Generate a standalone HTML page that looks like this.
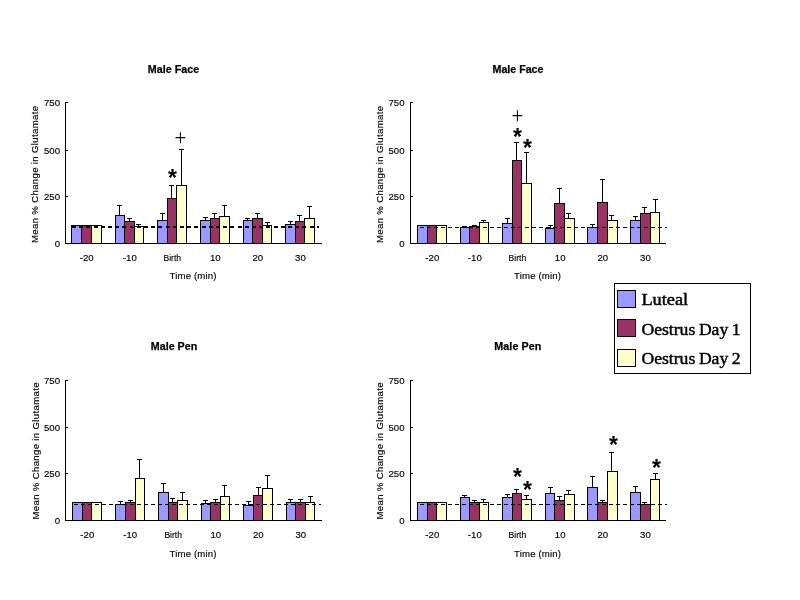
<!DOCTYPE html>
<html><head><meta charset="utf-8"><title>Glutamate figure</title>
<style>
html,body{margin:0;padding:0;background:#fff;}
svg{display:block;}
.t9{font-family:"Liberation Sans",Arial,sans-serif;font-size:9.6px;fill:#000;stroke:#000;stroke-width:0.15px;}
.tt{font-family:"Liberation Sans",Arial,sans-serif;font-size:10.7px;font-weight:bold;fill:#000;stroke:#000;stroke-width:0.25px;}
.lg{font-family:"Liberation Serif","Times New Roman",serif;font-size:17.3px;word-spacing:-0.8px;fill:#000;stroke:#000;stroke-width:0.45px;}
.ast{font-family:"Liberation Sans",Arial,sans-serif;font-size:23px;font-weight:bold;fill:#000;}
.plus{font-family:"Liberation Serif","Times New Roman",serif;font-size:21px;fill:#000;}
</style></head><body>
<svg width="800" height="600" viewBox="0 0 800 600" shape-rendering="crispEdges">
<rect x="0" y="0" width="800" height="600" fill="#fff"/>
<rect x="71.5" y="225.5" width="10" height="18" fill="#9999ff" stroke="#000" stroke-width="1"/>
<rect x="81.5" y="225.5" width="10" height="18" fill="#993366" stroke="#000" stroke-width="1"/>
<rect x="91.5" y="225.5" width="10" height="18" fill="#ffffcc" stroke="#000" stroke-width="1"/>
<rect x="115.5" y="215.5" width="9" height="28" fill="#9999ff" stroke="#000" stroke-width="1"/>
<rect x="124.5" y="221.5" width="10" height="22" fill="#993366" stroke="#000" stroke-width="1"/>
<rect x="134.5" y="226.5" width="9" height="17" fill="#ffffcc" stroke="#000" stroke-width="1"/>
<rect x="119" y="205" width="1" height="10" fill="#000"/>
<rect x="117" y="205" width="5" height="1" fill="#000"/>
<rect x="129" y="218" width="1" height="3" fill="#000"/>
<rect x="127" y="218" width="5" height="1" fill="#000"/>
<rect x="138" y="224" width="1" height="2" fill="#000"/>
<rect x="136" y="224" width="5" height="1" fill="#000"/>
<rect x="157.5" y="220.5" width="10" height="23" fill="#9999ff" stroke="#000" stroke-width="1"/>
<rect x="167.5" y="198.5" width="9" height="45" fill="#993366" stroke="#000" stroke-width="1"/>
<rect x="176.5" y="185.5" width="10" height="58" fill="#ffffcc" stroke="#000" stroke-width="1"/>
<rect x="162" y="213" width="1" height="7" fill="#000"/>
<rect x="160" y="213" width="5" height="1" fill="#000"/>
<rect x="171" y="185" width="1" height="13" fill="#000"/>
<rect x="169" y="185" width="5" height="1" fill="#000"/>
<rect x="181" y="149" width="1" height="36" fill="#000"/>
<rect x="179" y="149" width="5" height="1" fill="#000"/>
<rect x="200.5" y="220.5" width="10" height="23" fill="#9999ff" stroke="#000" stroke-width="1"/>
<rect x="210.5" y="218.5" width="9" height="25" fill="#993366" stroke="#000" stroke-width="1"/>
<rect x="219.5" y="216.5" width="10" height="27" fill="#ffffcc" stroke="#000" stroke-width="1"/>
<rect x="205" y="217" width="1" height="3" fill="#000"/>
<rect x="203" y="217" width="5" height="1" fill="#000"/>
<rect x="214" y="213" width="1" height="5" fill="#000"/>
<rect x="212" y="213" width="5" height="1" fill="#000"/>
<rect x="224" y="205" width="1" height="11" fill="#000"/>
<rect x="222" y="205" width="5" height="1" fill="#000"/>
<rect x="243.5" y="220.5" width="9" height="23" fill="#9999ff" stroke="#000" stroke-width="1"/>
<rect x="252.5" y="218.5" width="10" height="25" fill="#993366" stroke="#000" stroke-width="1"/>
<rect x="262.5" y="225.5" width="9" height="18" fill="#ffffcc" stroke="#000" stroke-width="1"/>
<rect x="247" y="218" width="1" height="2" fill="#000"/>
<rect x="245" y="218" width="5" height="1" fill="#000"/>
<rect x="257" y="213" width="1" height="5" fill="#000"/>
<rect x="255" y="213" width="5" height="1" fill="#000"/>
<rect x="267" y="222" width="1" height="3" fill="#000"/>
<rect x="265" y="222" width="5" height="1" fill="#000"/>
<rect x="285.5" y="224.5" width="10" height="19" fill="#9999ff" stroke="#000" stroke-width="1"/>
<rect x="295.5" y="221.5" width="9" height="22" fill="#993366" stroke="#000" stroke-width="1"/>
<rect x="304.5" y="218.5" width="10" height="25" fill="#ffffcc" stroke="#000" stroke-width="1"/>
<rect x="290" y="221" width="1" height="3" fill="#000"/>
<rect x="288" y="221" width="5" height="1" fill="#000"/>
<rect x="299" y="215" width="1" height="6" fill="#000"/>
<rect x="297" y="215" width="5" height="1" fill="#000"/>
<rect x="309" y="206" width="1" height="12" fill="#000"/>
<rect x="307" y="206" width="5" height="1" fill="#000"/>
<rect x="72" y="226" width="4" height="2" fill="#000"/>
<rect x="79" y="226" width="4" height="2" fill="#000"/>
<rect x="86" y="226" width="4" height="2" fill="#000"/>
<rect x="94" y="226" width="4" height="2" fill="#000"/>
<rect x="101" y="226" width="4" height="2" fill="#000"/>
<rect x="108" y="226" width="4" height="2" fill="#000"/>
<rect x="115" y="226" width="4" height="2" fill="#000"/>
<rect x="122" y="226" width="4" height="2" fill="#000"/>
<rect x="130" y="226" width="4" height="2" fill="#000"/>
<rect x="137" y="226" width="4" height="2" fill="#000"/>
<rect x="144" y="226" width="4" height="2" fill="#000"/>
<rect x="151" y="226" width="4" height="2" fill="#000"/>
<rect x="158" y="226" width="4" height="2" fill="#000"/>
<rect x="166" y="226" width="4" height="2" fill="#000"/>
<rect x="173" y="226" width="4" height="2" fill="#000"/>
<rect x="180" y="226" width="4" height="2" fill="#000"/>
<rect x="187" y="226" width="4" height="2" fill="#000"/>
<rect x="194" y="226" width="4" height="2" fill="#000"/>
<rect x="202" y="226" width="4" height="2" fill="#000"/>
<rect x="209" y="226" width="4" height="2" fill="#000"/>
<rect x="216" y="226" width="4" height="2" fill="#000"/>
<rect x="223" y="226" width="4" height="2" fill="#000"/>
<rect x="230" y="226" width="4" height="2" fill="#000"/>
<rect x="238" y="226" width="4" height="2" fill="#000"/>
<rect x="245" y="226" width="4" height="2" fill="#000"/>
<rect x="252" y="226" width="4" height="2" fill="#000"/>
<rect x="259" y="226" width="4" height="2" fill="#000"/>
<rect x="266" y="226" width="4" height="2" fill="#000"/>
<rect x="274" y="226" width="4" height="2" fill="#000"/>
<rect x="281" y="226" width="4" height="2" fill="#000"/>
<rect x="288" y="226" width="4" height="2" fill="#000"/>
<rect x="295" y="226" width="4" height="2" fill="#000"/>
<rect x="302" y="226" width="4" height="2" fill="#000"/>
<rect x="310" y="226" width="4" height="2" fill="#000"/>
<rect x="317" y="226" width="2.200000000000273" height="2" fill="#000"/>
<rect x="65" y="102" width="1" height="142" fill="#000"/>
<rect x="65" y="243" width="257" height="1" fill="#000"/>
<rect x="66" y="243" width="2" height="1" fill="#000"/>
<text x="60" y="247" text-anchor="end" class="t9">0</text>
<rect x="66" y="196" width="2" height="1" fill="#000"/>
<text x="60" y="200" text-anchor="end" class="t9">250</text>
<rect x="66" y="150" width="2" height="1" fill="#000"/>
<text x="60" y="154" text-anchor="end" class="t9">500</text>
<rect x="66" y="102" width="2" height="1" fill="#000"/>
<text x="60" y="106" text-anchor="end" class="t9">750</text>
<text x="86.7" y="261" text-anchor="middle" class="t9">-20</text>
<text x="129.8" y="261" text-anchor="middle" class="t9">-10</text>
<text x="172.3" y="261" text-anchor="middle" class="t9" textLength="17.6" lengthAdjust="spacingAndGlyphs">Birth</text>
<text x="215.3" y="261" text-anchor="middle" class="t9">10</text>
<text x="257.8" y="261" text-anchor="middle" class="t9">20</text>
<text x="300.4" y="261" text-anchor="middle" class="t9">30</text>
<text x="193.0" y="279" text-anchor="middle" class="t9" textLength="47" lengthAdjust="spacing">Time (min)</text>
<text transform="translate(38,174.5) rotate(-90)" text-anchor="middle" class="t9" textLength="137" lengthAdjust="spacing">Mean % Change in Glutamate</text>
<text x="173.5" y="73" text-anchor="middle" class="tt" textLength="51.5" lengthAdjust="spacing">Male Face</text>
<text x="168.0" y="186.0" class="ast">*</text>
<text transform="translate(180.5,137.5) scale(1,1.13)" x="0" y="6.55" text-anchor="middle" class="plus">+</text>
<rect x="417.5" y="225.5" width="10" height="18" fill="#9999ff" stroke="#000" stroke-width="1"/>
<rect x="427.5" y="225.5" width="9" height="18" fill="#993366" stroke="#000" stroke-width="1"/>
<rect x="436.5" y="225.5" width="10" height="18" fill="#ffffcc" stroke="#000" stroke-width="1"/>
<rect x="460.5" y="227.5" width="9" height="16" fill="#9999ff" stroke="#000" stroke-width="1"/>
<rect x="469.5" y="226.5" width="10" height="17" fill="#993366" stroke="#000" stroke-width="1"/>
<rect x="479.5" y="222.5" width="9" height="21" fill="#ffffcc" stroke="#000" stroke-width="1"/>
<rect x="464" y="226" width="1" height="1" fill="#000"/>
<rect x="462" y="226" width="5" height="1" fill="#000"/>
<rect x="474" y="225" width="1" height="1" fill="#000"/>
<rect x="472" y="225" width="5" height="1" fill="#000"/>
<rect x="483" y="220" width="1" height="2" fill="#000"/>
<rect x="481" y="220" width="5" height="1" fill="#000"/>
<rect x="502.5" y="223.5" width="10" height="20" fill="#9999ff" stroke="#000" stroke-width="1"/>
<rect x="512.5" y="160.5" width="9" height="83" fill="#993366" stroke="#000" stroke-width="1"/>
<rect x="521.5" y="183.5" width="10" height="60" fill="#ffffcc" stroke="#000" stroke-width="1"/>
<rect x="507" y="218" width="1" height="5" fill="#000"/>
<rect x="505" y="218" width="5" height="1" fill="#000"/>
<rect x="516" y="142" width="1" height="18" fill="#000"/>
<rect x="514" y="142" width="5" height="1" fill="#000"/>
<rect x="526" y="152" width="1" height="31" fill="#000"/>
<rect x="524" y="152" width="5" height="1" fill="#000"/>
<rect x="545.5" y="228.5" width="9" height="15" fill="#9999ff" stroke="#000" stroke-width="1"/>
<rect x="554.5" y="203.5" width="10" height="40" fill="#993366" stroke="#000" stroke-width="1"/>
<rect x="564.5" y="218.5" width="10" height="25" fill="#ffffcc" stroke="#000" stroke-width="1"/>
<rect x="550" y="225" width="1" height="3" fill="#000"/>
<rect x="548" y="225" width="5" height="1" fill="#000"/>
<rect x="559" y="188" width="1" height="15" fill="#000"/>
<rect x="557" y="188" width="5" height="1" fill="#000"/>
<rect x="568" y="213" width="1" height="5" fill="#000"/>
<rect x="566" y="213" width="5" height="1" fill="#000"/>
<rect x="587.5" y="227.5" width="10" height="16" fill="#9999ff" stroke="#000" stroke-width="1"/>
<rect x="597.5" y="202.5" width="10" height="41" fill="#993366" stroke="#000" stroke-width="1"/>
<rect x="607.5" y="220.5" width="10" height="23" fill="#ffffcc" stroke="#000" stroke-width="1"/>
<rect x="592" y="224" width="1" height="3" fill="#000"/>
<rect x="590" y="224" width="5" height="1" fill="#000"/>
<rect x="602" y="179" width="1" height="23" fill="#000"/>
<rect x="600" y="179" width="5" height="1" fill="#000"/>
<rect x="611" y="215" width="1" height="5" fill="#000"/>
<rect x="609" y="215" width="5" height="1" fill="#000"/>
<rect x="630.5" y="220.5" width="10" height="23" fill="#9999ff" stroke="#000" stroke-width="1"/>
<rect x="640.5" y="213.5" width="10" height="30" fill="#993366" stroke="#000" stroke-width="1"/>
<rect x="650.5" y="212.5" width="9" height="31" fill="#ffffcc" stroke="#000" stroke-width="1"/>
<rect x="635" y="216" width="1" height="4" fill="#000"/>
<rect x="633" y="216" width="5" height="1" fill="#000"/>
<rect x="644" y="207" width="1" height="6" fill="#000"/>
<rect x="642" y="207" width="5" height="1" fill="#000"/>
<rect x="655" y="199" width="1" height="13" fill="#000"/>
<rect x="653" y="199" width="5" height="1" fill="#000"/>
<rect x="420" y="227" width="4" height="1" fill="#000"/>
<rect x="427" y="227" width="4" height="1" fill="#000"/>
<rect x="434" y="227" width="4" height="1" fill="#000"/>
<rect x="441" y="227" width="4" height="1" fill="#000"/>
<rect x="448" y="227" width="4" height="1" fill="#000"/>
<rect x="455" y="227" width="4" height="1" fill="#000"/>
<rect x="462" y="227" width="4" height="1" fill="#000"/>
<rect x="469" y="227" width="4" height="1" fill="#000"/>
<rect x="476" y="227" width="4" height="1" fill="#000"/>
<rect x="483" y="227" width="4" height="1" fill="#000"/>
<rect x="490" y="227" width="4" height="1" fill="#000"/>
<rect x="497" y="227" width="4" height="1" fill="#000"/>
<rect x="504" y="227" width="4" height="1" fill="#000"/>
<rect x="511" y="227" width="4" height="1" fill="#000"/>
<rect x="518" y="227" width="4" height="1" fill="#000"/>
<rect x="525" y="227" width="4" height="1" fill="#000"/>
<rect x="532" y="227" width="4" height="1" fill="#000"/>
<rect x="539" y="227" width="4" height="1" fill="#000"/>
<rect x="546" y="227" width="4" height="1" fill="#000"/>
<rect x="553" y="227" width="4" height="1" fill="#000"/>
<rect x="560" y="227" width="4" height="1" fill="#000"/>
<rect x="567" y="227" width="4" height="1" fill="#000"/>
<rect x="574" y="227" width="4" height="1" fill="#000"/>
<rect x="581" y="227" width="4" height="1" fill="#000"/>
<rect x="588" y="227" width="4" height="1" fill="#000"/>
<rect x="595" y="227" width="4" height="1" fill="#000"/>
<rect x="602" y="227" width="4" height="1" fill="#000"/>
<rect x="609" y="227" width="4" height="1" fill="#000"/>
<rect x="616" y="227" width="4" height="1" fill="#000"/>
<rect x="623" y="227" width="4" height="1" fill="#000"/>
<rect x="630" y="227" width="4" height="1" fill="#000"/>
<rect x="637" y="227" width="4" height="1" fill="#000"/>
<rect x="644" y="227" width="4" height="1" fill="#000"/>
<rect x="651" y="227" width="4" height="1" fill="#000"/>
<rect x="658" y="227" width="4" height="1" fill="#000"/>
<rect x="665" y="227" width="2.0" height="1" fill="#000"/>
<rect x="410" y="102" width="1" height="142" fill="#000"/>
<rect x="410" y="243" width="256" height="1" fill="#000"/>
<rect x="411" y="243" width="2" height="1" fill="#000"/>
<text x="404.5" y="247" text-anchor="end" class="t9">0</text>
<rect x="411" y="196" width="2" height="1" fill="#000"/>
<text x="404.5" y="200" text-anchor="end" class="t9">250</text>
<rect x="411" y="150" width="2" height="1" fill="#000"/>
<text x="404.5" y="154" text-anchor="end" class="t9">500</text>
<rect x="411" y="102" width="2" height="1" fill="#000"/>
<text x="404.5" y="106" text-anchor="end" class="t9">750</text>
<text x="432.3" y="261" text-anchor="middle" class="t9">-20</text>
<text x="474.8" y="261" text-anchor="middle" class="t9">-10</text>
<text x="517.4" y="261" text-anchor="middle" class="t9" textLength="17.6" lengthAdjust="spacingAndGlyphs">Birth</text>
<text x="560.2" y="261" text-anchor="middle" class="t9">10</text>
<text x="602.8" y="261" text-anchor="middle" class="t9">20</text>
<text x="645.4" y="261" text-anchor="middle" class="t9">30</text>
<text x="537.5" y="279" text-anchor="middle" class="t9" textLength="47" lengthAdjust="spacing">Time (min)</text>
<text transform="translate(383,174.5) rotate(-90)" text-anchor="middle" class="t9" textLength="137" lengthAdjust="spacing">Mean % Change in Glutamate</text>
<text x="518" y="73" text-anchor="middle" class="tt" textLength="51" lengthAdjust="spacing">Male Face</text>
<text transform="translate(517.5,115.5) scale(1,1.13)" x="0" y="6.55" text-anchor="middle" class="plus">+</text>
<text x="513.0" y="145.0" class="ast">*</text>
<text x="523.0" y="156.0" class="ast">*</text>
<rect x="72.5" y="502.5" width="10" height="18" fill="#9999ff" stroke="#000" stroke-width="1"/>
<rect x="82.5" y="502.5" width="9" height="18" fill="#993366" stroke="#000" stroke-width="1"/>
<rect x="91.5" y="502.5" width="10" height="18" fill="#ffffcc" stroke="#000" stroke-width="1"/>
<rect x="115.5" y="504.5" width="10" height="16" fill="#9999ff" stroke="#000" stroke-width="1"/>
<rect x="125.5" y="502.5" width="10" height="18" fill="#993366" stroke="#000" stroke-width="1"/>
<rect x="135.5" y="478.5" width="9" height="42" fill="#ffffcc" stroke="#000" stroke-width="1"/>
<rect x="120" y="501" width="1" height="3" fill="#000"/>
<rect x="118" y="501" width="5" height="1" fill="#000"/>
<rect x="130" y="500" width="1" height="2" fill="#000"/>
<rect x="128" y="500" width="5" height="1" fill="#000"/>
<rect x="139" y="459" width="1" height="19" fill="#000"/>
<rect x="137" y="459" width="5" height="1" fill="#000"/>
<rect x="158.5" y="492.5" width="10" height="28" fill="#9999ff" stroke="#000" stroke-width="1"/>
<rect x="168.5" y="502.5" width="9" height="18" fill="#993366" stroke="#000" stroke-width="1"/>
<rect x="177.5" y="500.5" width="10" height="20" fill="#ffffcc" stroke="#000" stroke-width="1"/>
<rect x="163" y="483" width="1" height="9" fill="#000"/>
<rect x="161" y="483" width="5" height="1" fill="#000"/>
<rect x="172" y="498" width="1" height="4" fill="#000"/>
<rect x="170" y="498" width="5" height="1" fill="#000"/>
<rect x="182" y="492" width="1" height="8" fill="#000"/>
<rect x="180" y="492" width="5" height="1" fill="#000"/>
<rect x="201.5" y="503.5" width="9" height="17" fill="#9999ff" stroke="#000" stroke-width="1"/>
<rect x="210.5" y="502.5" width="10" height="18" fill="#993366" stroke="#000" stroke-width="1"/>
<rect x="220.5" y="496.5" width="9" height="24" fill="#ffffcc" stroke="#000" stroke-width="1"/>
<rect x="205" y="500" width="1" height="3" fill="#000"/>
<rect x="203" y="500" width="5" height="1" fill="#000"/>
<rect x="215" y="499" width="1" height="3" fill="#000"/>
<rect x="213" y="499" width="5" height="1" fill="#000"/>
<rect x="224" y="485" width="1" height="11" fill="#000"/>
<rect x="222" y="485" width="5" height="1" fill="#000"/>
<rect x="243.5" y="505.5" width="10" height="15" fill="#9999ff" stroke="#000" stroke-width="1"/>
<rect x="253.5" y="495.5" width="9" height="25" fill="#993366" stroke="#000" stroke-width="1"/>
<rect x="262.5" y="488.5" width="10" height="32" fill="#ffffcc" stroke="#000" stroke-width="1"/>
<rect x="248" y="501" width="1" height="4" fill="#000"/>
<rect x="246" y="501" width="5" height="1" fill="#000"/>
<rect x="258" y="487" width="1" height="8" fill="#000"/>
<rect x="256" y="487" width="5" height="1" fill="#000"/>
<rect x="267" y="475" width="1" height="13" fill="#000"/>
<rect x="265" y="475" width="5" height="1" fill="#000"/>
<rect x="286.5" y="502.5" width="9" height="18" fill="#9999ff" stroke="#000" stroke-width="1"/>
<rect x="295.5" y="502.5" width="10" height="18" fill="#993366" stroke="#000" stroke-width="1"/>
<rect x="305.5" y="502.5" width="9" height="18" fill="#ffffcc" stroke="#000" stroke-width="1"/>
<rect x="290" y="499" width="1" height="3" fill="#000"/>
<rect x="288" y="499" width="5" height="1" fill="#000"/>
<rect x="300" y="499" width="1" height="3" fill="#000"/>
<rect x="298" y="499" width="5" height="1" fill="#000"/>
<rect x="310" y="496" width="1" height="6" fill="#000"/>
<rect x="308" y="496" width="5" height="1" fill="#000"/>
<rect x="74" y="504" width="4" height="1" fill="#000"/>
<rect x="81" y="504" width="4" height="1" fill="#000"/>
<rect x="88" y="504" width="4" height="1" fill="#000"/>
<rect x="95" y="504" width="4" height="1" fill="#000"/>
<rect x="102" y="504" width="4" height="1" fill="#000"/>
<rect x="109" y="504" width="4" height="1" fill="#000"/>
<rect x="116" y="504" width="4" height="1" fill="#000"/>
<rect x="123" y="504" width="4" height="1" fill="#000"/>
<rect x="130" y="504" width="4" height="1" fill="#000"/>
<rect x="137" y="504" width="4" height="1" fill="#000"/>
<rect x="144" y="504" width="4" height="1" fill="#000"/>
<rect x="151" y="504" width="4" height="1" fill="#000"/>
<rect x="158" y="504" width="4" height="1" fill="#000"/>
<rect x="165" y="504" width="4" height="1" fill="#000"/>
<rect x="172" y="504" width="4" height="1" fill="#000"/>
<rect x="179" y="504" width="4" height="1" fill="#000"/>
<rect x="186" y="504" width="4" height="1" fill="#000"/>
<rect x="193" y="504" width="4" height="1" fill="#000"/>
<rect x="200" y="504" width="4" height="1" fill="#000"/>
<rect x="207" y="504" width="4" height="1" fill="#000"/>
<rect x="214" y="504" width="4" height="1" fill="#000"/>
<rect x="221" y="504" width="4" height="1" fill="#000"/>
<rect x="228" y="504" width="4" height="1" fill="#000"/>
<rect x="235" y="504" width="4" height="1" fill="#000"/>
<rect x="242" y="504" width="4" height="1" fill="#000"/>
<rect x="249" y="504" width="4" height="1" fill="#000"/>
<rect x="256" y="504" width="4" height="1" fill="#000"/>
<rect x="263" y="504" width="4" height="1" fill="#000"/>
<rect x="270" y="504" width="4" height="1" fill="#000"/>
<rect x="277" y="504" width="4" height="1" fill="#000"/>
<rect x="284" y="504" width="4" height="1" fill="#000"/>
<rect x="291" y="504" width="4" height="1" fill="#000"/>
<rect x="298" y="504" width="4" height="1" fill="#000"/>
<rect x="305" y="504" width="4" height="1" fill="#000"/>
<rect x="312" y="504" width="4" height="1" fill="#000"/>
<rect x="319" y="504" width="2.0" height="1" fill="#000"/>
<rect x="65" y="380" width="1" height="141" fill="#000"/>
<rect x="65" y="520" width="257" height="1" fill="#000"/>
<rect x="66" y="520" width="2" height="1" fill="#000"/>
<text x="60" y="524" text-anchor="end" class="t9">0</text>
<rect x="66" y="473" width="2" height="1" fill="#000"/>
<text x="60" y="477" text-anchor="end" class="t9">250</text>
<rect x="66" y="427" width="2" height="1" fill="#000"/>
<text x="60" y="431" text-anchor="end" class="t9">500</text>
<rect x="66" y="380" width="2" height="1" fill="#000"/>
<text x="60" y="384" text-anchor="end" class="t9">750</text>
<text x="87.3" y="538" text-anchor="middle" class="t9">-20</text>
<text x="130.2" y="538" text-anchor="middle" class="t9">-10</text>
<text x="173.2" y="538" text-anchor="middle" class="t9" textLength="17.6" lengthAdjust="spacingAndGlyphs">Birth</text>
<text x="215.8" y="538" text-anchor="middle" class="t9">10</text>
<text x="258.3" y="538" text-anchor="middle" class="t9">20</text>
<text x="300.8" y="538" text-anchor="middle" class="t9">30</text>
<text x="193.0" y="557" text-anchor="middle" class="t9" textLength="47" lengthAdjust="spacing">Time (min)</text>
<text transform="translate(38.5,451) rotate(-90)" text-anchor="middle" class="t9" textLength="137" lengthAdjust="spacing">Mean % Change in Glutamate</text>
<text x="174" y="350" text-anchor="middle" class="tt" textLength="46.5" lengthAdjust="spacing">Male Pen</text>
<rect x="417.5" y="502.5" width="10" height="18" fill="#9999ff" stroke="#000" stroke-width="1"/>
<rect x="427.5" y="502.5" width="9" height="18" fill="#993366" stroke="#000" stroke-width="1"/>
<rect x="436.5" y="502.5" width="10" height="18" fill="#ffffcc" stroke="#000" stroke-width="1"/>
<rect x="460.5" y="497.5" width="9" height="23" fill="#9999ff" stroke="#000" stroke-width="1"/>
<rect x="469.5" y="502.5" width="10" height="18" fill="#993366" stroke="#000" stroke-width="1"/>
<rect x="479.5" y="502.5" width="9" height="18" fill="#ffffcc" stroke="#000" stroke-width="1"/>
<rect x="464" y="495" width="1" height="2" fill="#000"/>
<rect x="462" y="495" width="5" height="1" fill="#000"/>
<rect x="474" y="500" width="1" height="2" fill="#000"/>
<rect x="472" y="500" width="5" height="1" fill="#000"/>
<rect x="483" y="499" width="1" height="3" fill="#000"/>
<rect x="481" y="499" width="5" height="1" fill="#000"/>
<rect x="502.5" y="497.5" width="10" height="23" fill="#9999ff" stroke="#000" stroke-width="1"/>
<rect x="512.5" y="493.5" width="9" height="27" fill="#993366" stroke="#000" stroke-width="1"/>
<rect x="521.5" y="499.5" width="10" height="21" fill="#ffffcc" stroke="#000" stroke-width="1"/>
<rect x="507" y="494" width="1" height="3" fill="#000"/>
<rect x="505" y="494" width="5" height="1" fill="#000"/>
<rect x="516" y="489" width="1" height="4" fill="#000"/>
<rect x="514" y="489" width="5" height="1" fill="#000"/>
<rect x="526" y="495" width="1" height="4" fill="#000"/>
<rect x="524" y="495" width="5" height="1" fill="#000"/>
<rect x="545.5" y="493.5" width="9" height="27" fill="#9999ff" stroke="#000" stroke-width="1"/>
<rect x="554.5" y="500.5" width="10" height="20" fill="#993366" stroke="#000" stroke-width="1"/>
<rect x="564.5" y="494.5" width="10" height="26" fill="#ffffcc" stroke="#000" stroke-width="1"/>
<rect x="550" y="487" width="1" height="6" fill="#000"/>
<rect x="548" y="487" width="5" height="1" fill="#000"/>
<rect x="559" y="496" width="1" height="4" fill="#000"/>
<rect x="557" y="496" width="5" height="1" fill="#000"/>
<rect x="568" y="490" width="1" height="4" fill="#000"/>
<rect x="566" y="490" width="5" height="1" fill="#000"/>
<rect x="587.5" y="487.5" width="10" height="33" fill="#9999ff" stroke="#000" stroke-width="1"/>
<rect x="597.5" y="502.5" width="10" height="18" fill="#993366" stroke="#000" stroke-width="1"/>
<rect x="607.5" y="471.5" width="10" height="49" fill="#ffffcc" stroke="#000" stroke-width="1"/>
<rect x="592" y="476" width="1" height="11" fill="#000"/>
<rect x="590" y="476" width="5" height="1" fill="#000"/>
<rect x="602" y="500" width="1" height="2" fill="#000"/>
<rect x="600" y="500" width="5" height="1" fill="#000"/>
<rect x="611" y="452" width="1" height="19" fill="#000"/>
<rect x="609" y="452" width="5" height="1" fill="#000"/>
<rect x="630.5" y="492.5" width="10" height="28" fill="#9999ff" stroke="#000" stroke-width="1"/>
<rect x="640.5" y="504.5" width="10" height="16" fill="#993366" stroke="#000" stroke-width="1"/>
<rect x="650.5" y="479.5" width="9" height="41" fill="#ffffcc" stroke="#000" stroke-width="1"/>
<rect x="635" y="486" width="1" height="6" fill="#000"/>
<rect x="633" y="486" width="5" height="1" fill="#000"/>
<rect x="644" y="502" width="1" height="2" fill="#000"/>
<rect x="642" y="502" width="5" height="1" fill="#000"/>
<rect x="655" y="473" width="1" height="6" fill="#000"/>
<rect x="653" y="473" width="5" height="1" fill="#000"/>
<rect x="420" y="504" width="4" height="1" fill="#000"/>
<rect x="427" y="504" width="4" height="1" fill="#000"/>
<rect x="434" y="504" width="4" height="1" fill="#000"/>
<rect x="441" y="504" width="4" height="1" fill="#000"/>
<rect x="448" y="504" width="4" height="1" fill="#000"/>
<rect x="455" y="504" width="4" height="1" fill="#000"/>
<rect x="462" y="504" width="4" height="1" fill="#000"/>
<rect x="469" y="504" width="4" height="1" fill="#000"/>
<rect x="476" y="504" width="4" height="1" fill="#000"/>
<rect x="483" y="504" width="4" height="1" fill="#000"/>
<rect x="490" y="504" width="4" height="1" fill="#000"/>
<rect x="497" y="504" width="4" height="1" fill="#000"/>
<rect x="504" y="504" width="4" height="1" fill="#000"/>
<rect x="511" y="504" width="4" height="1" fill="#000"/>
<rect x="518" y="504" width="4" height="1" fill="#000"/>
<rect x="525" y="504" width="4" height="1" fill="#000"/>
<rect x="532" y="504" width="4" height="1" fill="#000"/>
<rect x="539" y="504" width="4" height="1" fill="#000"/>
<rect x="546" y="504" width="4" height="1" fill="#000"/>
<rect x="553" y="504" width="4" height="1" fill="#000"/>
<rect x="560" y="504" width="4" height="1" fill="#000"/>
<rect x="567" y="504" width="4" height="1" fill="#000"/>
<rect x="574" y="504" width="4" height="1" fill="#000"/>
<rect x="581" y="504" width="4" height="1" fill="#000"/>
<rect x="588" y="504" width="4" height="1" fill="#000"/>
<rect x="595" y="504" width="4" height="1" fill="#000"/>
<rect x="602" y="504" width="4" height="1" fill="#000"/>
<rect x="609" y="504" width="4" height="1" fill="#000"/>
<rect x="616" y="504" width="4" height="1" fill="#000"/>
<rect x="623" y="504" width="4" height="1" fill="#000"/>
<rect x="630" y="504" width="4" height="1" fill="#000"/>
<rect x="637" y="504" width="4" height="1" fill="#000"/>
<rect x="644" y="504" width="4" height="1" fill="#000"/>
<rect x="651" y="504" width="4" height="1" fill="#000"/>
<rect x="658" y="504" width="4" height="1" fill="#000"/>
<rect x="665" y="504" width="2.0" height="1" fill="#000"/>
<rect x="410" y="380" width="1" height="141" fill="#000"/>
<rect x="410" y="520" width="256" height="1" fill="#000"/>
<rect x="411" y="520" width="2" height="1" fill="#000"/>
<text x="404.5" y="524" text-anchor="end" class="t9">0</text>
<rect x="411" y="473" width="2" height="1" fill="#000"/>
<text x="404.5" y="477" text-anchor="end" class="t9">250</text>
<rect x="411" y="427" width="2" height="1" fill="#000"/>
<text x="404.5" y="431" text-anchor="end" class="t9">500</text>
<rect x="411" y="380" width="2" height="1" fill="#000"/>
<text x="404.5" y="384" text-anchor="end" class="t9">750</text>
<text x="432.3" y="538" text-anchor="middle" class="t9">-20</text>
<text x="474.8" y="538" text-anchor="middle" class="t9">-10</text>
<text x="517.4" y="538" text-anchor="middle" class="t9" textLength="17.6" lengthAdjust="spacingAndGlyphs">Birth</text>
<text x="560.2" y="538" text-anchor="middle" class="t9">10</text>
<text x="602.8" y="538" text-anchor="middle" class="t9">20</text>
<text x="645.4" y="538" text-anchor="middle" class="t9">30</text>
<text x="537.5" y="557" text-anchor="middle" class="t9" textLength="47" lengthAdjust="spacing">Time (min)</text>
<text transform="translate(383,451) rotate(-90)" text-anchor="middle" class="t9" textLength="137" lengthAdjust="spacing">Mean % Change in Glutamate</text>
<text x="517.8" y="350" text-anchor="middle" class="tt" textLength="46.9" lengthAdjust="spacing">Male Pen</text>
<text x="513.0" y="485.0" class="ast">*</text>
<text x="523.0" y="498.0" class="ast">*</text>
<text x="609.0" y="453.0" class="ast">*</text>
<text x="652.0" y="476.0" class="ast">*</text>
<rect x="614.5" y="283.5" width="136" height="90" fill="#fff" stroke="#000" stroke-width="1"/>
<rect x="617.5" y="290.5" width="18" height="17" fill="#9999ff" stroke="#000" stroke-width="1"/>
<text x="641.4" y="305" class="lg" textLength="46.8" lengthAdjust="spacingAndGlyphs">Luteal</text>
<rect x="617.5" y="319.5" width="18" height="17" fill="#993366" stroke="#000" stroke-width="1"/>
<text x="641.4" y="335" class="lg" textLength="99.3" lengthAdjust="spacingAndGlyphs">Oestrus Day 1</text>
<rect x="617.5" y="349.5" width="18" height="17" fill="#ffffcc" stroke="#000" stroke-width="1"/>
<text x="641.4" y="364" class="lg" textLength="99.3" lengthAdjust="spacingAndGlyphs">Oestrus Day 2</text>
</svg>
</body></html>
